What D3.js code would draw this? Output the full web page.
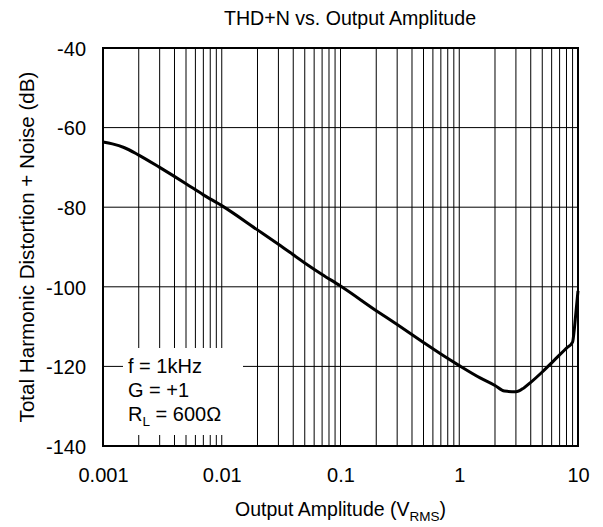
<!DOCTYPE html>
<html>
<head>
<meta charset="utf-8">
<script src="https://cdn.jsdelivr.net/npm/d3@7"></script>
<style>
  html, body { margin: 0; padding: 0; background: #fff; }
  svg { display: block; font-family: Arial, "Liberation Sans", sans-serif; }
</style>
</head>
<body>
<svg id="chart" width="603" height="527"></svg>
<script>
const chartTitle = "THD+N vs. Output Amplitude";
const xTicks = [0.001, 0.01, 0.1, 1, 10];
const xTickLabels = ["0.001", "0.01", "0.1", "1", "10"];
const yTicks = [-140, -120, -100, -80, -60, -40];
const yTickLabels = ["-140", "-120", "-100", "-80", "-60", "-40"];
const amplitude = [0.001, 0.0012, 0.0015, 0.002, 0.003, 0.005, 0.007, 0.01, 0.02, 0.03, 0.05, 0.07, 0.1, 0.2, 0.3, 0.5, 0.7, 1, 1.5, 2, 2.4, 3, 3.5, 4, 5, 6, 7, 8, 9, 9.3, 9.6, 10];
const thdn = [-63.6, -64.1, -65.0, -66.9, -70.0, -74.1, -76.9, -79.6, -85.7, -89.3, -94.0, -96.9, -99.8, -106.0, -109.5, -114.0, -116.9, -119.8, -122.9, -124.8, -126.2, -126.4, -125.4, -124.0, -121.4, -119.1, -117.1, -115.4, -113.9, -110.8, -106.5, -101.0];
const legendLines = ["f = 1kHz", "G = +1"];

const svg = d3.select("#chart");
const m = {left: 103, right: 578, top: 48, bottom: 446};
const x = d3.scaleLog().domain([0.001, 10]).range([m.left, m.right]);
const y = d3.scaleLinear().domain([-140, -40]).range([m.bottom, m.top]);

// minor + major vertical grid
const xGrid = [];
for (let d = 0.001; d < 10; d *= 10) {
  for (let k = 1; k <= 9; k++) xGrid.push(+(d * k).toPrecision(3));
}
xGrid.push(10);
const grid = svg.append("g");
grid.selectAll("line.v").data(xGrid).join("line")
  .attr("x1", d => x(d)).attr("x2", d => x(d))
  .attr("y1", m.top).attr("y2", m.bottom)
  .attr("stroke", "#000").attr("stroke-width", 1);
grid.selectAll("line.h").data(yTicks).join("line")
  .attr("x1", m.left).attr("x2", m.right)
  .attr("y1", d => y(d)).attr("y2", d => y(d))
  .attr("stroke", "#000").attr("stroke-width", 1);

// legend white box
svg.append("rect").attr("x", 123).attr("y", 348).attr("width", 120).attr("height", 87).attr("fill", "#fff");

// curve
const line = d3.line().x((d, i) => x(amplitude[i])).y(d => y(d)).curve(d3.curveMonotoneX);
svg.append("path").datum(thdn).attr("d", line)
  .attr("fill", "none").attr("stroke", "#000").attr("stroke-width", 3).attr("stroke-linejoin", "round");

// frame
svg.append("rect").attr("x", m.left).attr("y", m.top).attr("width", m.right - m.left).attr("height", m.bottom - m.top)
  .attr("fill", "none").attr("stroke", "#000").attr("stroke-width", 2);

// axes labels
const xAxis = d3.axisBottom(x).tickValues(xTicks).tickFormat((d, i) => xTickLabels[i]).tickSize(0).tickPadding(0);
const gx = svg.append("g").attr("transform", `translate(0,${m.bottom})`).call(xAxis);
gx.select(".domain").remove();
gx.selectAll("text").attr("dy", null).attr("y", 36).attr("font-size", 20).attr("fill", "#000").attr("font-family", "Arial, 'Liberation Sans', sans-serif");

const yAxis = d3.axisLeft(y).tickValues(yTicks).tickFormat((d, i) => yTickLabels[i]).tickSize(0).tickPadding(0);
const gy = svg.append("g").attr("transform", `translate(${m.left},0)`).call(yAxis);
gy.select(".domain").remove();
gy.selectAll("text").attr("x", -17).attr("dy", "0.36em").attr("font-size", 20).attr("fill", "#000").attr("font-family", "Arial, 'Liberation Sans', sans-serif");

// titles
svg.append("text").attr("x", 350).attr("y", 25).attr("text-anchor", "middle")
  .attr("font-size", 19.6).text(chartTitle);

const xt = svg.append("text").attr("x", (m.left + m.right) / 2).attr("y", 516).attr("text-anchor", "middle").attr("font-size", 19.5);
xt.append("tspan").text("Output Amplitude (V");
xt.append("tspan").attr("font-size", 13.5).attr("dy", 5).text("RMS");
xt.append("tspan").attr("dy", -5).text(")");

svg.append("text").attr("transform", `translate(34,${(m.top + m.bottom) / 2}) rotate(-90)`)
  .attr("text-anchor", "middle").attr("font-size", 20.6).text("Total Harmonic Distortion + Noise (dB)");

// legend text
const lg = svg.append("g").attr("font-size", 20);
legendLines.forEach((t, i) => {
  lg.append("text").attr("x", 128).attr("y", 373 + i * 24).text(t);
});
const rl = lg.append("text").attr("x", 128).attr("y", 421);
rl.append("tspan").text("R");
rl.append("tspan").attr("font-size", 13.5).attr("dy", 5).text("L");
rl.append("tspan").attr("dy", -5).text(" = 600Ω");
</script>
</body>
</html>
